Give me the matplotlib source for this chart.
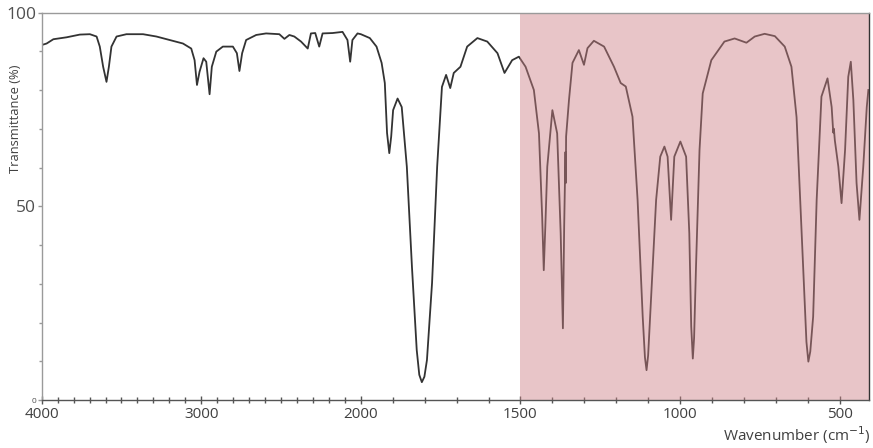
import numpy as np
import matplotlib
matplotlib.use("Agg")
import matplotlib.pyplot as plt
from matplotlib.ticker import FixedLocator, MultipleLocator

wavenumber = [4000, 3969, 3927, 3844, 3761, 3698, 3656, 3636, 3615, 3594, 3579, 3563, 3531, 3469,
              3365, 3281, 3198, 3115, 3063, 3042, 3027, 3011, 2986, 2969, 2948, 2934, 2906, 2865,
              2802, 2777, 2761, 2744, 2719, 2656, 2594, 2511, 2479, 2448, 2417, 2375, 2333, 2313,
              2286, 2261, 2240, 2177, 2115, 2084, 2067, 2053, 2021, 2000, 1972, 1951, 1935, 1925,
              1918, 1911, 1905, 1899, 1885, 1872, 1856, 1840, 1825, 1817, 1809, 1801, 1793, 1777,
              1761, 1746, 1733, 1720, 1709, 1688, 1667, 1635, 1604, 1572, 1550, 1526, 1505, 1484,
              1458, 1442, 1432, 1427, 1422, 1416, 1400, 1385, 1374, 1367, 1363, 1359, 1358, 1357,
              1348, 1337, 1317, 1301, 1290, 1270, 1238, 1207, 1186, 1170, 1149, 1133, 1117, 1110,
              1105, 1100, 1091, 1075, 1062, 1049, 1039, 1028, 1018, 999, 981, 971, 965, 960, 956,
              950, 939, 929, 902, 861, 829, 792, 766, 735, 703, 672, 651, 635, 619, 604, 598, 592,
              583, 572, 557, 538, 525, 520, 518, 515, 504, 494, 483, 473, 465, 457, 447, 438, 426,
              415, 410]

transmittance = [91.6, 92.0, 93.1, 93.6, 94.3, 94.4, 93.8, 91.2, 86.0, 82.1, 86.0, 91.2, 93.8, 94.4,
                 94.4, 93.8, 92.9, 92.0, 90.7, 87.7, 81.3, 84.7, 88.2, 87.3, 78.9, 86.0, 89.9, 91.2,
                 91.2, 89.5, 84.9, 89.5, 92.9, 94.2, 94.6, 94.4, 93.2, 94.2, 93.8, 92.5, 90.7, 94.6,
                 94.7, 91.2, 94.6, 94.7, 95.0, 92.9, 87.3, 92.9, 94.6, 94.4, 93.4, 91.2, 87.0, 81.8,
                 68.9, 63.7, 68.0, 74.8, 77.8, 75.6, 60.2, 34.4, 12.9, 6.5, 4.6, 6.0, 10.3, 30.2,
                 60.2, 80.8, 83.9, 80.5, 84.4, 86.0, 91.2, 93.4, 92.5, 89.5, 84.4, 87.7, 88.6, 86.0,
                 80.0, 68.8, 47.3, 33.5, 45.0, 60.2, 74.8, 68.8, 43.0, 18.5, 45.0, 64.0, 56.0, 68.0,
                 77.4, 87.0, 90.3, 86.5, 90.8, 92.7, 91.2, 86.0, 81.8, 80.9, 73.1, 51.6, 21.5, 11.0,
                 7.7, 11.5, 25.8, 51.6, 62.8, 65.4, 62.8, 46.5, 62.8, 66.7, 62.8, 43.0, 19.0, 10.7, 16.0,
                 34.4, 64.5, 79.1, 87.7, 92.5, 93.3, 92.2, 93.8, 94.5, 93.9, 91.2, 86.0, 73.0, 43.0, 15.0, 9.9, 12.5,
                 21.5, 51.6, 78.3, 83.0, 75.6, 69.0, 70.0, 67.0, 60.2, 50.8, 64.5, 83.4, 87.3, 77.4, 56.0, 46.5, 60.2,
                 75.6, 80.0]

x_major = [4000, 3000, 2000, 1500, 1000, 500]
x_labels = ["4000", "3000", "2000", "1500", "1000", "500"]
y_major = [0, 50, 100]
y_labels = ["0", "50", "100"]
region_start, region_end = 1500, 400


def fwd(x):
    # 2x expansion below 2000 cm-1 (monotonically increasing)
    x = np.asarray(x, dtype=float)
    return np.where(x >= 2000, x, 2 * x - 2000)


def inv(u):
    u = np.asarray(u, dtype=float)
    return np.where(u >= 2000, u, (u + 2000) / 2)


plt.rcParams['font.family'] = ['Open Sans', 'DejaVu Sans']

fig = plt.figure(figsize=(8.73, 4.48), dpi=100)
ax = fig.add_axes([41.7 / 873, 1 - 400 / 448, (869 - 41.7) / 873, (400 - 12.5) / 448])
ax.set_xscale('function', functions=(fwd, inv))

ax.plot(wavenumber, transmittance, color='#333333', lw=1.3, zorder=2,
        solid_joinstyle='round')
ax.axvspan(region_start, region_end, color='#cc8085', alpha=0.45, lw=0, zorder=3)

ax.set_xlim(4000, 408)
ax.set_ylim(0, 100)

ax.xaxis.set_major_locator(FixedLocator(x_major))
ax.set_xticklabels(x_labels)
ax.xaxis.set_minor_locator(MultipleLocator(100))
ax.yaxis.set_major_locator(FixedLocator(y_major))
ax.set_yticklabels(y_labels)
ax.yaxis.set_minor_locator(MultipleLocator(10))

ax.tick_params(axis='x', which='major', direction='inout', length=6, width=1, colors='#555555',
               labelsize=11, labelcolor='#404040', pad=2)
ax.tick_params(axis='x', which='minor', direction='inout', length=4, width=1, colors='#555555')
ax.tick_params(axis='y', which='major', direction='out', length=3, width=1, colors='#999999',
               labelsize=12.5, labelcolor='#505050', pad=1)
ax.tick_params(axis='y', which='minor', direction='out', length=2, width=1, colors='#999999')
ax.get_yticklabels()[0].set_fontsize(6)

for s in ['top', 'left']:
    ax.spines[s].set_color('#9a9a9a')
ax.spines['bottom'].set_color('#555555')
ax.spines['right'].set_color('#333333')
for s in ax.spines.values():
    s.set_linewidth(1.0)
    s.set_zorder(4)

ax.set_ylabel('Transmittance (%)', fontsize=9.3, color='#404040')
ax.yaxis.set_label_coords(-20 / 827.3, (400 - 119) / 387.5)
fig.text(871 / 873, 1 - 435 / 448, 'Wavenumber (cm$^{-1}$)', ha='right', va='center',
         fontsize=11, color='#404040')

fig.savefig('out.png', dpi=100)
